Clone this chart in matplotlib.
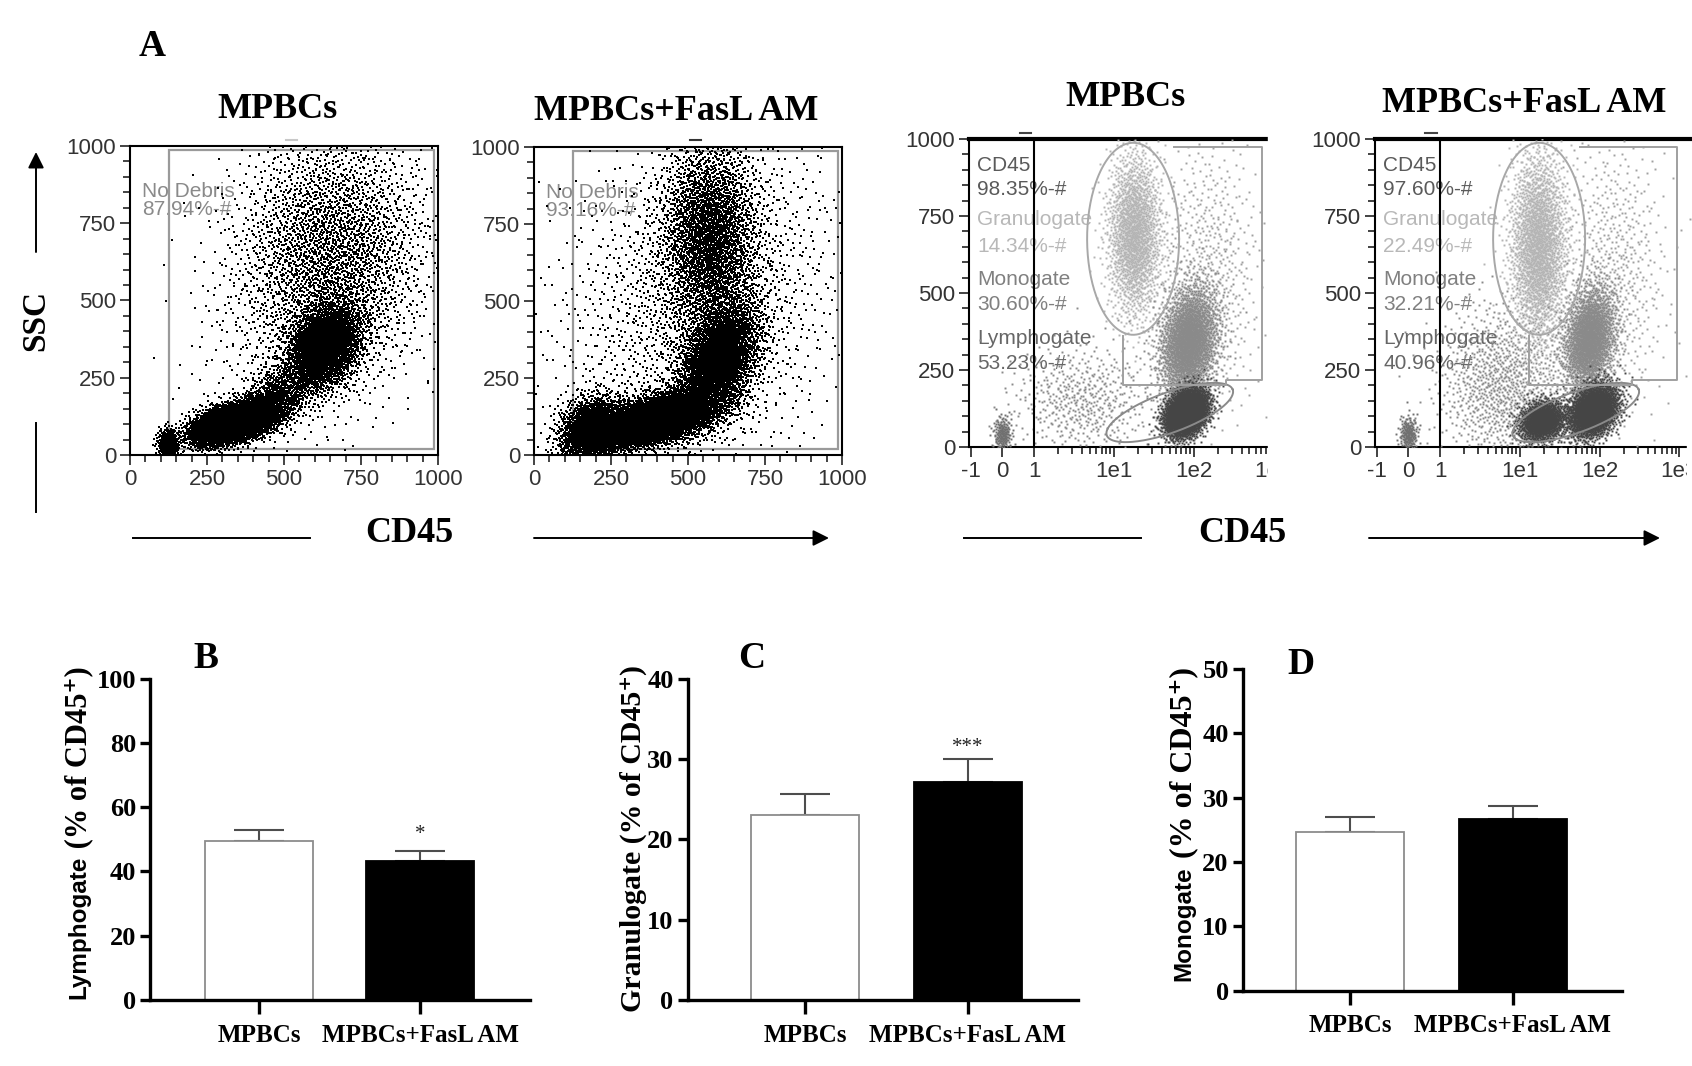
import matplotlib
matplotlib.use("Agg")
import matplotlib.pyplot as plt
import numpy as np
from statistics import NormalDist
from matplotlib.patches import Rectangle

W, H = 1692, 1066  # output size in pixels (dpi 100)

groups = ["MPBCs", "MPBCs+FasL AM"]
lymph_mean = [49.4, 43.3]
lymph_sem = [3.4, 3.2]
gran_mean = [23.0, 27.1]
gran_sem = [2.6, 2.9]
mono_mean = [24.7, 26.7]
mono_sem = [2.3, 2.0]

# Gate read-outs printed in the dot plots
debris_pct = ["87.94%-#", "93.16%-#"]
cd45_pct = ["98.35%-#", "97.60%-#"]
gran_pct = ["14.34%-#", "22.49%-#"]
mono_pct = ["30.60%-#", "32.21%-#"]
lymph_pct = ["53.23%-#", "40.96%-#"]

# Dot plot populations: (x, SSC, sd x, sd SSC, corr, events)
lin_mpbc = [
    (125, 35, 18, 25, 0.0, 350),
    (340, 105, 70, 35, 0.5, 5200),
    (480, 190, 50, 50, 0.3, 700),
    (630, 350, 60, 70, 0.3, 3000),
    (650, 660, 150, 200, 0.0, 2600),
    (620, 520, 190, 240, 0.4, 900),
]
lin_fasl = [
    (190, 80, 55, 55, 0.2, 1800),
    (400, 115, 100, 45, 0.5, 5000),
    (600, 310, 65, 95, 0.4, 3200),
    (570, 700, 80, 170, 0.0, 3000),
    (540, 480, 230, 290, 0.2, 2000),
]
# biexponential panels: (CD45, SSC, sd in axis units, sd SSC, corr, events, colour)
log_mpbc = [
    (0, 40, 0.14, 30, 0.0, 200, "#707070"),
    (4, 150, 1.1, 90, 0.0, 500, "#8a8a8a"),
    (150, 560, 0.8, 230, 0.0, 600, "#a0a0a0"),
    (18, 690, 0.42, 135, 0.0, 1800, "#b4b4b4"),
    (86, 340, 0.45, 90, 0.2, 2600, "#8a8a8a"),
    (80, 112, 0.33, 38, 0.3, 3600, "#454545"),
]
log_fasl = [
    (0, 40, 0.14, 30, 0.0, 220, "#707070"),
    (6, 200, 1.0, 130, 0.0, 1000, "#8a8a8a"),
    (150, 560, 0.8, 230, 0.0, 600, "#a0a0a0"),
    (17, 650, 0.45, 160, 0.0, 2300, "#b4b4b4"),
    (74, 350, 0.4, 85, 0.2, 2200, "#8a8a8a"),
    (19, 85, 0.35, 33, 0.2, 1500, "#454545"),
    (83, 118, 0.38, 42, 0.3, 2800, "#454545"),
]

SERIF = ["Liberation Serif", "DejaVu Serif"]
SANS = ["Liberation Sans", "DejaVu Sans"]

fig = plt.figure(figsize=(W / 100, H / 100), dpi=100)
fig.patch.set_facecolor("white")


def add_axes(left, top, right, bottom):
    return fig.add_axes([left / W, 1 - bottom / H, (right - left) / W, (bottom - top) / H])


# deterministic low-discrepancy sequence for the event clouds
_seq_pos = [0]
_nd = NormalDist()


def halton(n, base, start):
    out = np.empty(n)
    for j in range(n):
        i = start + j + 1
        f, r = 1.0, 0.0
        while i > 0:
            f /= base
            r += f * (i % base)
            i //= base
        out[j] = r
    return out


def gauss_pair(n):
    start = _seq_pos[0]
    _seq_pos[0] += n
    u1 = halton(n, 2, start)
    u2 = halton(n, 3, start)
    z1 = np.array([_nd.inv_cdf(v) for v in u1])
    z2 = np.array([_nd.inv_cdf(v) for v in u2])
    return z1, z2


def fwd(x):
    x = np.asarray(x, float)
    return np.where(x <= 1, x, 1 + 2.5 * np.log10(np.maximum(x, 1)))


def inv(u):
    u = np.asarray(u, float)
    return np.where(u <= 1, u, 10 ** ((np.minimum(u, 20) - 1) / 2.5))


def style_flow(ax):
    ax.tick_params(which="both", direction="out", colors="#222222", labelsize=16, width=1.2, pad=3)
    ax.tick_params(which="major", length=7)
    ax.tick_params(which="minor", length=5)
    ax.set_ylim(0, 1000)
    ax.set_yticks([0, 250, 500, 750, 1000])
    ax.set_yticks(np.arange(0, 1001, 50), minor=True)
    for t in ax.get_xticklabels() + ax.get_yticklabels():
        t.set_family(SANS)
        t.set_color("#333333")


def linear_plot(rect, pops, pct):
    ax = add_axes(*rect)
    for cx, cy, sx, sy, rho, n in pops:
        z1, z2 = gauss_pair(n)
        x = cx + sx * z1
        y = cy + sy * (rho * z1 + np.sqrt(1 - rho ** 2) * z2)
        keep = (x > 0) & (x < 1000) & (y > 0) & (y < 1000)
        ax.plot(x[keep], y[keep], "s", color="black", ms=1.5, mew=0, zorder=3)
    ax.add_patch(Rectangle((126, 18), 862, 968, fill=False, ec="#9a9a9a", lw=1.6, zorder=2))
    ax.text(38, 852, "No Debris", color="#8a8a8a", fontsize=15, family=SANS, va="center", zorder=1)
    ax.text(38, 793, pct, color="#8a8a8a", fontsize=15, family=SANS, va="center", zorder=1)
    ax.set_xlim(0, 1000)
    ax.set_xticks([0, 250, 500, 750, 1000])
    ax.set_xticks(np.arange(0, 1001, 50), minor=True)
    for s in ax.spines.values():
        s.set_linewidth(1.5)
    style_flow(ax)
    return ax


def gate_ellipse(ax, cu, cy, a_px, b_px, ang, color, lw=1.4):
    pos = ax.get_position()
    upx = pos.width * W / np.ptp(fwd(np.array(ax.get_xlim())))
    ypx = pos.height * H / 1000
    t = np.linspace(0, 2 * np.pi, 240)
    th = np.radians(ang)
    px = a_px * np.cos(t) * np.cos(th) - b_px * np.sin(t) * np.sin(th)
    py = a_px * np.cos(t) * np.sin(th) + b_px * np.sin(t) * np.cos(th)
    ax.plot(inv(cu + px / upx), cy + py / ypx, color=color, lw=lw, zorder=4)


def biexp_plot(rect, pops, k, mono_right):
    ax = add_axes(*rect)
    ax.set_xscale("function", functions=(fwd, inv))
    ax.set_xlim(inv(-1.05), inv(9.4))
    for cx, cy, su, sy, rho, n, col in pops:
        z1, z2 = gauss_pair(n)
        u = fwd(cx) + su * z1
        y = cy + sy * (rho * z1 + np.sqrt(1 - rho ** 2) * z2)
        keep = (u > -1.05) & (u < 9.4) & (y > 0) & (y < 1000)
        ax.plot(inv(u[keep]), y[keep], "s", color=col, ms=1.4, mew=0, zorder=3)
    # gates
    ax.plot([1, 1], [0, 1000], color="black", lw=1.5, zorder=5)
    gate_ellipse(ax, 4.1, 676, 46, 96, 0, "#a8a8a8")
    gate_ellipse(ax, 5.25, 112, 67, 20, 20, "#8a8a8a")
    mu = [5.37, mono_right, mono_right, 7.0, 7.0, 3.79, 3.79]
    my = [975, 975, 219, 219, 200, 200, 360]
    ax.plot(inv(np.array(mu)), my, color="#a0a0a0", lw=1.4, zorder=4)
    labels = [("CD45", 913, "#5a5a5a"), (cd45_pct[k], 837, "#5a5a5a"),
              ("Granulogate", 739, "#b8b8b8"), (gran_pct[k], 652, "#b8b8b8"),
              ("Monogate", 543, "#808080"), (mono_pct[k], 462, "#808080"),
              ("Lymphogate", 353, "#666666"), (lymph_pct[k], 272, "#666666")]
    for txt, yy, col in labels:
        ax.text(-0.79, yy, txt, color=col, fontsize=15, family=SANS, va="center", zorder=2)
    ax.set_xticks([-1, 0, 1, 10, 100, 1000])
    ax.set_xticklabels(["-1", "0", "1", "1e1", "1e2", "1e3"])
    minors = [m * d for d in (1, 10, 100) for m in range(2, 10)]
    ax.set_xticks(minors, minor=True)
    style_flow(ax)
    ax.spines["right"].set_visible(False)
    ax.spines["left"].set_linewidth(1.5)
    ax.spines["bottom"].set_linewidth(1.5)
    ax.spines["top"].set_linewidth(3)
    return ax


def bar_plot(rect, xlim, means, sems, ymax, step, star, star_y):
    ax = add_axes(*rect)
    x = np.arange(len(groups))
    ax.bar(x, means, width=0.665, color=["white", "black"], edgecolor=["#8c8c8c", "black"],
           linewidth=1.3, zorder=2)
    ax.errorbar(x, means, yerr=[np.zeros(len(x)), sems], fmt="none", ecolor="#4d4d4d",
                elinewidth=1.5, capsize=18, capthick=1.5, zorder=1)
    if star:
        ax.text(1, star_y, star, ha="center", va="center", fontsize=15, family=SERIF, color="#222222")
    ax.set_xlim(*xlim)
    ax.set_ylim(0, ymax)
    ax.set_yticks(np.arange(0, ymax + 1, step))
    ax.set_xticks(x)
    ax.set_xticklabels(groups)
    for side in ("top", "right"):
        ax.spines[side].set_visible(False)
    for side in ("left", "bottom"):
        ax.spines[side].set_linewidth(2.4)
    ax.tick_params(axis="y", length=7, width=2.4, pad=3, labelsize=19)
    ax.tick_params(axis="x", length=10, width=2.4, pad=7, labelsize=18)
    for t in ax.get_xticklabels() + ax.get_yticklabels():
        t.set_family(SERIF)
        t.set_weight("bold")
    return ax


linear_plot((130, 146, 438, 455), lin_mpbc, debris_pct[0])
linear_plot((534, 147, 842, 455), lin_fasl, debris_pct[1])
biexp_plot((969, 139, 1302, 447), log_mpbc, 0, 8.16)
biexp_plot((1375, 139, 1708, 447), log_fasl, 1, 8.42)

bar_plot((150, 678.6, 530, 1000), (-0.677, 1.683), lymph_mean, lymph_sem, 100, 20, "*", 51.6)
bar_plot((687.5, 678.6, 1078, 1000), (-0.72, 1.675), gran_mean, gran_sem, 40, 10, "***", 31.4)
bar_plot((1242.6, 669, 1621.8, 990.5), (-0.664, 1.67), mono_mean, mono_sem, 50, 10, None, 0)

# Overlay in pixel coordinates for titles, arrows and labels
ov = fig.add_axes([0, 0, 1, 1])
ov.set_xlim(0, W)
ov.set_ylim(H, 0)
ov.axis("off")

# crop edges of the two right-hand dot plots
ov.add_patch(Rectangle((1268, 120), 38, 370, color="white", zorder=1))
ov.add_patch(Rectangle((1687, 420), 10, 60, color="white", zorder=1))

# small gate handles above the dot plot frames
ov.plot([286, 297], [140, 140], color="#c8c8c8", lw=1.5)
ov.plot([690, 701], [140, 140], color="#333333", lw=1.5)
ov.plot([1020, 1031], [133, 133], color="#444444", lw=1.5)
ov.plot([1425, 1437], [133, 133], color="#444444", lw=1.5)

bold_serif = dict(family=SERIF, weight="bold", ha="center", va="center")
ov.text(152, 47, "A", fontsize=27, **bold_serif)
ov.text(277, 109, "MPBCs", fontsize=26, **bold_serif)
ov.text(676, 112, "MPBCs+FasL AM", fontsize=26, **bold_serif)
ov.text(1125, 98, "MPBCs", fontsize=26, **bold_serif)
ov.text(1524, 103, "MPBCs+FasL AM", fontsize=26, **bold_serif)
ov.text(36, 320, "SSC", fontsize=24, rotation=90, **bold_serif)
ov.text(409, 534, "CD45", fontsize=26, **bold_serif)
ov.text(1242, 534, "CD45", fontsize=26, **bold_serif)
ov.text(206, 659, "B", fontsize=27, **bold_serif)
ov.text(752, 659, "C", fontsize=27, **bold_serif)
ov.text(1301, 665, "D", fontsize=27, **bold_serif)

arrow = dict(arrowstyle="-|>", color="black", lw=1.4, mutation_scale=24, shrinkA=0, shrinkB=0)
ov.annotate("", xy=(36, 152), xytext=(36, 252), arrowprops=arrow)
ov.plot([36, 36], [423, 512], color="black", lw=1.4)
ov.plot([133, 310], [538, 538], color="black", lw=1.4)
ov.annotate("", xy=(829, 538), xytext=(534, 538), arrowprops=arrow)
ov.plot([964, 1141], [538, 538], color="black", lw=1.4)
ov.annotate("", xy=(1660, 538), xytext=(1369, 538), arrowprops=arrow)

# y-axis titles of the bar charts (mixed fonts, bottom to top)
renderer = fig.canvas.get_renderer()


def stacked_label(x, y_bottom, parts):
    y = y_bottom
    for txt, fam, size in parts:
        t = ov.text(x, y, txt, family=fam, weight="bold", fontsize=size, rotation=90,
                    rotation_mode="anchor", ha="left", va="center")
        y -= t.get_window_extent(renderer).height


stacked_label(79, 999, [("Lymphogate", SANS, 17.5), (" (% of CD45⁺)", SERIF, 22)])
stacked_label(633, 1012, [("Granulogate (% of CD45⁺)", SERIF, 21.5)])
stacked_label(1184, 981, [("Monogate", SANS, 17.5), (" (% of CD45⁺)", SERIF, 23)])

fig.savefig("out.png", dpi=100, facecolor="white")
